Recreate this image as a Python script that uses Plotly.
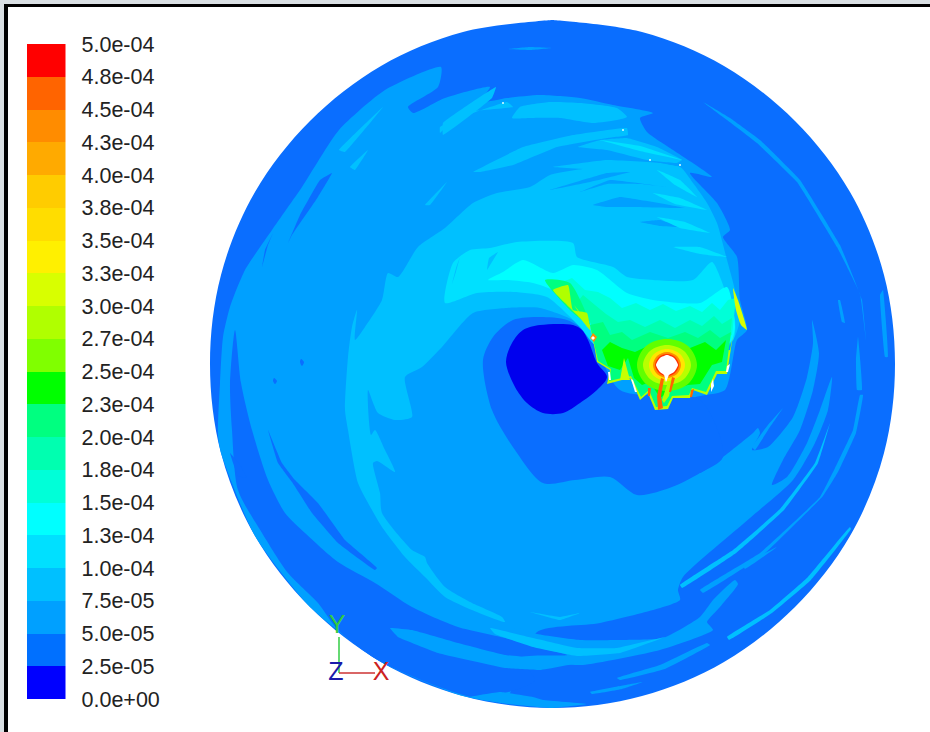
import plotly.graph_objects as go

# ---------- legend ----------
level_values = [0, 2.5e-5, 5e-5, 7.5e-5, 1e-4, 1.25e-4, 1.5e-4, 1.75e-4, 2e-4, 2.25e-4, 2.5e-4,
                2.75e-4, 3e-4, 3.25e-4, 3.5e-4, 3.75e-4, 4e-4, 4.25e-4, 4.5e-4, 4.75e-4, 5e-4]
level_labels = ["0.0e+00", "2.5e-05", "5.0e-05", "7.5e-05", "1.0e-04", "1.3e-04", "1.5e-04",
                "1.8e-04", "2.0e-04", "2.3e-04", "2.5e-04", "2.7e-04", "3.0e-04", "3.3e-04",
                "3.5e-04", "3.8e-04", "4.0e-04", "4.3e-04", "4.5e-04", "4.8e-04", "5.0e-04"]
band_colors = ["#0000ff", "#0070ff", "#00a0ff", "#00c0ff", "#00e0ff", "#00ffff", "#00ffd8", "#00ffb0",
               "#00ff80", "#00ff00", "#80ff00", "#b0ff00", "#d8ff00", "#fff000", "#ffdd00", "#ffcc00",
               "#ffaa00", "#ff8c00", "#ff6400", "#ff0000"]

B0, B1, B2, B3, B4, B5 = "#0000ee", "#0a6eff", "#00a0ff", "#00c0ff", "#00e0ff", "#00ffff"
THIN = 0.25

# ---------- contour regions (screen-like coordinates) ----------
disk = [(552,20),(642,32),(724,66),(795,121),(850,192),(884,275),(895,364),(884,453),(850,536),(795,607),
        (724,662),(642,696),(552,708),(463,696),(381,662),(310,607),(255,536),(221,453),(210,364),(221,275),
        (255,192),(310,121),(381,66),(463,32),(552,20)]
b2_main = [(223,337),(230,307),(245,270),(272,230),(302,187),(339,130),(385,90),(441,67),(438,87),(408,107),
           (413,113),(445,98),(490,87),(480,102),(507,98),(540,95),(580,98),(613,105),(653,113),(640,118),
           (647,132),(673,150),(712,177),(690,173),(717,203),(730,230),(723,237),(737,257),(740,300),(747,330),
           (737,340),(725,390),(690,400),(690,470),(700,473),(723,457),(753,433),(758,428),(760,433),(752,450),
           (768,447),(793,417),(807,377),(813,343),(812,320),(819,353),(813,390),(800,430),(783,460),(772,485),
           (787,477),(807,443),(820,410),(832,377),(828,410),(815,443),(793,480),(750,518),(683,577),(678,590),
           (680,600),(600,623),(537,632),(505,700),(463,696),(381,662),(310,607),(255,536),(221,453),(218,435),(220,383)]
b1_eye = [(483,360),(493,337),(513,320),(540,317),(567,320),(590,335),(620,390),(700,400),(723,457),(700,473),
          (672,487),(637,495),(610,477),(575,480),(543,483),(515,450),(492,410)]
b2_arc = [(515,628),(537,634),(580,640),(617,640),(663,638),(700,617),(713,600),(735,580),(738,584),(720,607),(707,622),
          (713,630),(660,650),(583,665),(560,664),(530,660),(510,650)]
b1_ring = [(235,330),(241,383),(252,430),(268,480),(285,513),(305,533),(338,562),(375,583),(412,607),(458,627),
           (505,638),(540,648),(567,655),(520,658),(535,680),(505,693),(472,697),(381,662),(338,630),(318,603),
           (288,573),(262,533),(238,490),(232,430),(230,383)]
b2_low_streak = [(390,628),(412,630),(458,643),(505,655),(560,660),(583,662),(540,670),(505,668),(438,653),(398,637)]
b2_rim_bottom = [(470,697),(500,692),(533,697),(543,700),(587,704),(552,708),(500,703)]
b1_streak_a = [(268,430),(282,463),(295,480),(318,503),(345,540),(377,568),(375,570),(338,543),(312,513),(292,482),(278,463)]
b1_streak_b = [(332,173),(318,197),(292,235),(288,243),(300,215),(320,180)]
b1_streak_c = [(273,233),(265,250),(262,267),(268,245)]
b1_streak_d = [(230,453),(240,465),(247,478),(238,476)]
b1_dot_a = [(301,359),(304,362),(302,366),(300,362)]
b1_dot_b = [(274,378),(277,381),(275,384),(273,381)]

b2_right_a = [(700,590),(760,553),(820,497),(835,468),(853,430),(860,395),(863,395),(856,433),(838,472),(823,496),(763,555),(703,593)]
b2_right_b = [(858,337),(862,390),(857,390),(856,360)]
b2_right_c = [(703,102),(730,118),(760,140),(800,180),(840,245),(862,300),(866,340),(860,294),(837,247),(797,182),(757,143),(727,120)]
b2_right_d = [(883,290),(888,357),(885,357),(880,295)]
b2_right_e = [(840,300),(845,323),(842,322),(838,300)]
b2_right_f = [(743,565),(777,547),(745,569)]
b2_right_g = [(783,408),(768,430),(755,450),(752,447),(768,425)]
b2_top_line = [(508,49),(530,47),(552,48),(530,50)]
b2_bot_a = [(617,678),(660,665),(707,643),(710,645),(665,669),(620,680)]
b2_bot_b = [(590,692),(620,686),(643,682),(622,689),(592,694)]

b3_main = [(345,410),(348,357),(352,327),(357,310),(355,340),(365,327),(382,300),(388,273),(398,277),(418,247),
           (445,228),(473,203),(497,193),(530,187),(550,175),(590,168),(640,165),(680,167),(693,183),(707,203),
           (717,223),(727,260),(735,290),(740,320),(730,345),(660,370),(600,350),(583,330),(573,320),(540,308),
           (507,308),(473,313),(442,347),(422,367),(405,377),(412,417),(395,420),(378,413),(368,390),(371,435),
           (375,430),(385,450),(395,472),(377,461),(373,463),(380,493),(382,513),(412,550),(425,557),(427,563),
           (445,587),(472,603),(502,617),(505,622),(472,610),(445,597),(425,577),(405,557),(382,527),(372,510),
           (358,483),(348,430)]
b3_arc_a = [(512,118),(520,107),(550,102),(580,103),(617,108),(627,117),(617,120),(593,123),(560,118),(530,118)]
b3_arc_b = [(440,133),(460,113),(513,107),(507,102),(473,113),(440,127)]
b3_arc_c = [(473,172),(523,147),(573,135),(627,128),(628,135),(607,138),(557,147),(513,165),(480,172)]
b3_arc_d = [(578,147),(600,140),(627,138),(657,147),(682,160),(677,163),(647,160),(607,150)]
b3_arc_e = [(553,167),(607,160),(660,163),(680,167),(650,172),(600,170)]
b3_line_a = [(425,205),(447,182),(430,205)]
b3_line_b = [(350,167),(368,150),(355,170)]
b3_line_c = [(339,150),(383,107),(345,152)]
b3_line_d = [(443,123),(496,87),(492,98),(443,135)]
b3_right_s4 = [(680,585),(733,550),(780,509),(815,463),(830,423),(818,463),(784,510),(736,553),(682,588)]
b3_rim = [(727,637),(770,610),(808,577),(850,527),(851,529),(811,580),(772,613),(729,640)]
b3_arc_bright = [(490,628),(533,638),(577,648),(617,648),(665,637),(620,653),(577,656),(533,647),(495,634)]
b3_bot_line = [(530,612),(560,617),(580,613),(560,620)]
b2_gap_a = [(580,192),(610,180),(667,187),(640,184),(607,184)]
b2_gap_b = [(593,205),(620,197),(685,208),(627,207),(607,207)]
b2_gap_c = [(640,222),(660,220),(680,227),(660,226)]
b2_gap_d = [(550,190),(607,173),(630,172),(590,182)]

b4_main = [(445,303),(453,263),(470,250),(490,248),(517,242),(573,243),(577,257),(613,267),(627,277),(653,280),
           (693,280),(712,262),(725,290),(735,320),(733,340),(660,365),(595,345),(580,327),(547,297),(513,292),(477,293)]
b3_hole_a = [(460,257),(456,272),(452,284),(456,268)]
b3_hole_b = [(498,252),(492,262),(487,270),(489,258)]
b4_arc_a = [(657,170),(680,180),(697,197),(675,185)]
b4_arc_b = [(653,193),(680,198),(707,210),(675,204)]
b4_arc_c = [(657,217),(685,222),(710,233),(680,228)]
b4_arc_d = [(673,247),(700,247),(727,257),(700,254)]
b4_arc_e = [(600,140),(640,146),(682,160),(640,151)]

b5_main = [(488,280),(503,272),(523,260),(553,273),(573,265),(597,270),(627,293),(653,300),(700,303),(727,287),
           (735,327),(730,343),(640,360),(593,333),(573,305),(553,290),(533,283),(507,280)]

# plume, outermost to innermost, with the toothed edges it shows
p_teal_a = [(560,283),(575,298),(590,316),(597,345),(640,370),(732,335),(736,298),(728,300),(720,310),(712,303),
            (702,312),(690,306),(676,311),(663,304),(650,310),(636,303),(622,308),(610,298),(598,292),(585,290),(572,278)]
p_teal_b = [(575,305),(590,322),(597,348),(640,372),(730,340),(732,318),(722,324),(714,316),(702,326),(690,320),
            (675,328),(660,320),(645,327),(630,320),(618,322),(606,314),(595,305),(583,295)]
p_tip_halo = [(545,280),(570,283),(590,325),(572,312)]
p_yellow_tip = [(553,290),(568,285),(573,310),(587,313),(590,330),(580,318),(565,303)]
p_right_strip = [(733,288),(738,300),(747,330),(741,325),(736,310)]
p_edge = [(574,305),(590,325),(595,350),(597,362),(610,370),(607,384),(622,380),(630,378),(637,393),(640,400),
          (648,393),(655,410),(668,409),(673,398),(690,398),(693,390),(707,395),(717,374),(727,374),(733,335),
          (730,350),(700,352),(640,352),(610,347),(585,322)]
p_light = [(590,325),(596,350),(598,361),(611,369),(609,381),(631,376),(638,391),(641,397),(649,390),(656,407),
           (667,406),(672,396),(689,395),(692,388),(706,392),(716,371),(726,371),(731,332),(720,338),(710,330),
           (698,338),(685,332),(668,338),(650,332),(632,340),(622,332),(610,335),(603,322)]
p_green = [(602,350),(608,366),(620,370),(628,358),(634,378),(642,385),(650,382),(660,398),(672,390),(688,385),
           (700,384),(712,365),(722,362),(726,340),(716,350),(705,342),(690,348),(670,345),(650,345),(635,352),
           (622,348),(610,342)]
p_ring_lime = [(667,339),(688,346),(697,365),(688,384),(667,391),(646,384),(637,365),(646,346)]
p_ring_pale = [(667,345),(684,351),(691,365),(684,379),(667,385),(650,379),(643,365),(650,351)]
p_ring_yellow = [(667,349),(680,354),(685,365),(680,376),(667,381),(654,376),(649,365),(654,354)]
p_ring_orange = [(667,352),(677,356),(681,365),(677,374),(667,378),(657,374),(653,365),(657,356)]
p_ring_red = [(667,354),(675,357),(679,365),(675,373),(667,376),(659,373),(655,365),(659,357)]
p_hole = [(667,355),(674,358),(678,365),(674,372),(669,375),(666,382),(664,375),(660,372),(656,365),(660,358)]
p_wedge = [(668,382),(672,380),(669,396),(664,403),(662,400)]
p_tail_a = [(661,378),(664,379),(661,396),(663,408),(658,410),(657,396)]
p_tail_b = [(672,377),(675,378),(671,392),(669,392)]
p_spike_g = [(624,358),(630,380),(620,380)]
p_spike_a = [(608,372),(610,372),(611,380),(609,380)]
p_spike_b = [(631,379),(633,380),(637,392),(635,392)]
p_spike_c = [(711,384),(713,379),(714,386),(711,392)]
p_spike_d = [(727,366),(730,364),(728,372),(726,372)]
p_spike_e = [(648,388),(651,388),(650,396),(648,396)]
p_spike_f = [(691,390),(694,389),(692,397),(690,397)]
p_node_orange = [(593,333),(597,337),(594,342),(590,338)]
p_node_white = [(593,336),(595,338),(593,340),(591,338)]
dark_core = [(506,362),(512,343),(523,330),(540,325),(573,325),(582,330),(588,340),(597,363),(607,377),(597,390),
             (580,403),(563,413),(543,413),(527,403),(515,387)]

# (points, colour, spline smoothing; 0 keeps straight edges)
regions = [
    (disk, B1, 1.0), (b2_main, B2, 0.6), (b2_arc, B2, 0.5), (b1_eye, B1, 0.8), (b1_ring, B1, 0.7),
    (b2_low_streak, B2, THIN), (b2_rim_bottom, B2, THIN), (b1_streak_a, B1, THIN), (b1_streak_b, B1, THIN),
    (b1_streak_c, B1, THIN), (b1_streak_d, B1, THIN), (b1_dot_a, B1, 0.8), (b1_dot_b, B1, 0.8),
    (b2_right_a, B2, THIN), (b2_right_b, B2, THIN), (b2_right_c, B2, THIN), (b2_right_d, B2, THIN),
    (b2_right_e, B2, THIN), (b2_right_f, B2, THIN), (b2_right_g, B2, THIN), (b2_top_line, B2, THIN),
    (b2_bot_a, B2, THIN), (b2_bot_b, B2, THIN),
    (b3_main, B3, 0.6), (b2_gap_a, B2, THIN), (b2_gap_b, B2, THIN), (b2_gap_c, B2, THIN), (b2_gap_d, B2, THIN),
    (b3_arc_a, B3, 0.5), (b3_arc_b, B3, THIN), (b3_arc_c, B3, THIN), (b3_arc_d, B3, THIN), (b3_arc_e, B3, THIN),
    (b3_line_a, B3, THIN), (b3_line_b, B3, THIN), (b3_line_c, B3, THIN), (b3_line_d, B3, THIN),
    (b3_right_s4, B3, THIN), (b3_rim, B3, THIN), (b3_arc_bright, B3, THIN), (b3_bot_line, B3, THIN),
    (b4_main, B4, 0.6), (b3_hole_a, B3, THIN), (b3_hole_b, B3, THIN),
    (b4_arc_a, B4, THIN), (b4_arc_b, B4, THIN), (b4_arc_c, B4, THIN), (b4_arc_d, B4, THIN), (b4_arc_e, B4, THIN),
    (b5_main, B5, 0.6), (p_teal_a, "#00ffd8", 0), (p_teal_b, "#00ffb0", 0), (p_tip_halo, "#00ff80", 0.6),
    (p_edge, "#b8ff00", 0), (p_light, "#00ff80", 0), (p_green, "#00ff00", 0), (p_spike_g, "#c8ff00", 0),
    (p_yellow_tip, "#b0ff00", 0.4), (p_right_strip, "#d8ff00", 0.4),
    (p_ring_lime, "#60ff00", 1.0), (p_ring_pale, "#b8ff00", 1.0), (p_ring_yellow, "#ffe600", 1.0),
    (p_ring_orange, "#ff8c00", 1.0), (p_ring_red, "#ff3000", 1.0), (p_hole, "#ffffff", 0.6), (p_wedge, "#b0ff00", 0),
    (p_tail_a, "#ff6400", 0), (p_tail_b, "#ff6400", 0),
    (p_spike_a, "#ffffff", 0), (p_spike_b, "#ffffff", 0), (p_spike_c, "#ffffff", 0),
    (p_spike_d, "#ffffff", 0), (p_spike_e, "#ff6400", 0), (p_spike_f, "#ff6400", 0),
    (p_node_orange, "#ff8c00", 0), (p_node_white, "#ffffff", 0), (dark_core, B0, 0.9),
]

speck_x = [503, 623, 650, 680]
speck_y = [103, 130, 160, 165]

triad_lines = [((339, 637), (339, 673), "#33cc44"), ((339, 673), (375, 673), "#cc3333")]
triad_letters = [("Y", 337, 627, "#33cc44"), ("Z", 336, 674, "#1a1aaa"), ("X", 381, 674, "#cc2222")]

fig = go.Figure()

for pts, col, smooth in regions:
    line = dict(width=0, color=col)
    if smooth:
        line.update(shape="spline", smoothing=smooth)
    fig.add_trace(go.Scatter(x=[p[0] for p in pts] + [pts[0][0]], y=[p[1] for p in pts] + [pts[0][1]],
                             mode="lines", fill="toself", fillcolor=col, line=line,
                             hoverinfo="skip", showlegend=False))

fig.add_trace(go.Scatter(x=speck_x, y=speck_y, mode="markers", marker=dict(size=2, color="#ddffff"),
                         hoverinfo="skip", showlegend=False))
for a, b, col in triad_lines:
    fig.add_trace(go.Scatter(x=[a[0], b[0]], y=[a[1], b[1]], mode="lines", line=dict(color=col, width=1.5),
                             hoverinfo="skip", showlegend=False))
for txt, x, y, col in triad_letters:
    fig.add_trace(go.Scatter(x=[x], y=[y], mode="text", text=[txt],
                             textfont=dict(family="Liberation Sans", size=25, color=col),
                             textposition="middle center", hoverinfo="skip", showlegend=False))

# legend as real bars on their own axes
fig.add_trace(go.Bar(x=[0] * 20, base=level_values[:-1],
                     y=[b - a for a, b in zip(level_values[:-1], level_values[1:])],
                     marker=dict(color=band_colors, line=dict(width=0)), width=1,
                     xaxis="x2", yaxis="y2", hoverinfo="skip", showlegend=False))

W, H = 930, 732
fig.update_layout(
    width=W, height=H, margin=dict(l=0, r=0, t=0, b=0, autoexpand=False),
    paper_bgcolor="white", plot_bgcolor="rgba(0,0,0,0)",
    showlegend=False, barmode="overlay", bargap=0,
    xaxis=dict(range=[0, W], domain=[0, 1], visible=False, fixedrange=True),
    yaxis=dict(range=[H, 0], domain=[0, 1], visible=False, fixedrange=True),
    xaxis2=dict(range=[-0.5, 0.5], domain=[26.5 / W, 65.5 / W], visible=False, anchor="y2"),
    yaxis2=dict(range=[0, 5e-4], domain=[(H - 699) / H, (H - 44) / H], anchor="x2", side="right",
                tickmode="array", tickvals=level_values, ticktext=level_labels, ticks="", showline=False,
                showgrid=False, zeroline=False, ticklabelstandoff=15,
                tickfont=dict(family="Liberation Sans", size=21.5, color="#222222")),
    shapes=[
        dict(type="rect", xref="paper", yref="paper", x0=0, x1=1, y0=1 - 4 / H, y1=1, fillcolor="#d9dfe3", line_width=0, layer="below"),
        dict(type="rect", xref="paper", yref="paper", x0=0, x1=4 / W, y0=0, y1=1, fillcolor="#d9dfe3", line_width=0, layer="below"),
        dict(type="rect", xref="paper", yref="paper", x0=4 / W, x1=1, y0=1 - 7 / H, y1=1 - 4 / H, fillcolor="#000000", line_width=0, layer="below"),
        dict(type="rect", xref="paper", yref="paper", x0=4 / W, x1=8 / W, y0=0, y1=1 - 4 / H, fillcolor="#000000", line_width=0, layer="below"),
    ],
)
fig.write_html("out.html", config={"displayModeBar": False}, post_script=(
    "document.body.style.margin='0';document.body.style.overflow='hidden';"
    "var gd=document.getElementById('{plot_id}');gd.style.position='fixed';gd.style.left='0';gd.style.top='0';"))
